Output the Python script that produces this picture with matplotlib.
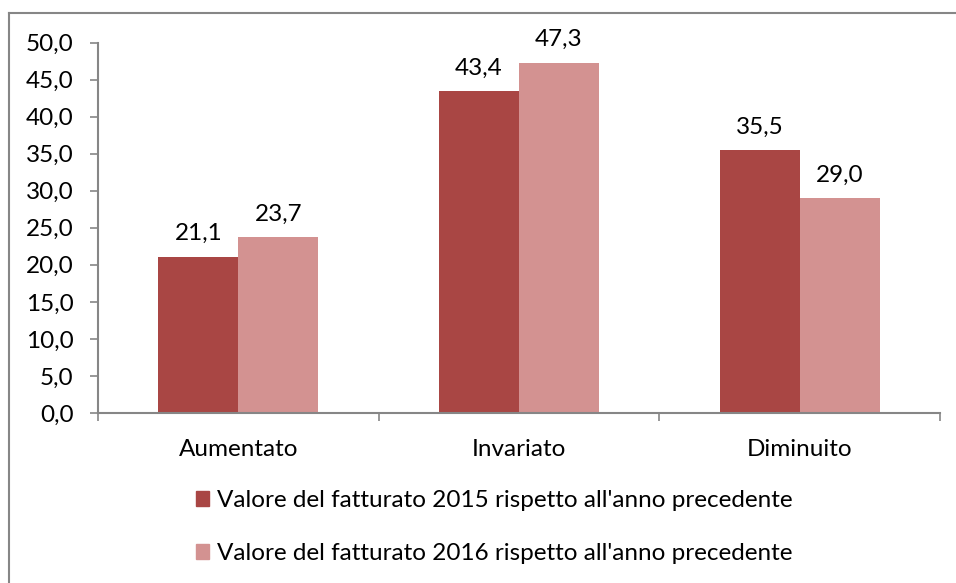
import matplotlib
matplotlib.use("Agg")
import matplotlib.pyplot as plt
import numpy as np
from matplotlib.lines import Line2D
from matplotlib.patches import Patch

categories = ["Aumentato", "Invariato", "Diminuito"]
series_names = ["Valore del fatturato 2015 rispetto all'anno precedente",
                "Valore del fatturato 2016 rispetto all'anno precedente"]
values_2015 = [21.1, 43.4, 35.5]
values_2016 = [23.7, 47.3, 29.0]
yticks = [0, 5, 10, 15, 20, 25, 30, 35, 40, 45, 50]

c1 = "#A94644"
c2 = "#D39291"
grey = "#868686"

plt.rcParams['font.family'] = ['Lato', 'DejaVu Sans']
fs = 17.5

fig = plt.figure(figsize=(9.56, 5.83), dpi=100)
W, H = 956, 583
ax = fig.add_axes([98 / W, 1 - 413 / H, (940 - 98) / W, (413 - 42.5) / H])

x = np.arange(len(categories))
w = 0.285
b1 = ax.bar(x - w / 2, values_2015, w, color=c1, label=series_names[0])
b2 = ax.bar(x + w / 2, values_2016, w, color=c2, label=series_names[1])

def fmt(v):
    return f"{v:.1f}".replace(".", ",")

for bars, vals in ((b1, values_2015), (b2, values_2016)):
    for r, v in zip(bars, vals):
        ax.annotate(fmt(v), (r.get_x() + r.get_width() / 2, v), xytext=(0, 9),
                    textcoords="offset points", ha="center", va="bottom", fontsize=fs)

ax.set_xlim(-0.5, 2.5)
ax.set_ylim(0, 50)
ax.set_yticks(yticks)
ax.set_yticklabels([fmt(v) for v in yticks], fontsize=fs)
ax.set_xticks(x)
ax.set_xticklabels(categories, fontsize=fs)
ax.set_xticks([-0.5, 0.5, 1.5, 2.5], minor=True)
ax.tick_params(axis='x', which='major', length=0, pad=19)
ax.tick_params(axis='x', which='minor', length=5.5, color=grey, width=1.2)
ax.tick_params(axis='y', length=5.5, color=grey, width=1.2, pad=12)
for s in ("top", "right"):
    ax.spines[s].set_visible(False)
for s in ("left", "bottom"):
    ax.spines[s].set_color(grey)
    ax.spines[s].set_linewidth(1.5)

handles = [Patch(color=c1), Patch(color=c2)]
fig.legend(handles, series_names, loc="center", bbox_to_anchor=(494 / W, 1 - 527 / H),
           frameon=False, fontsize=fs, ncol=1, handlelength=0.55, handleheight=0.55,
           handletextpad=0.3, labelspacing=1.3)

# chart-area border (only top and left edges visible in the crop)
fig.add_artist(Line2D([8.5 / W, 8.5 / W], [0, 1 - 12.5 / H], transform=fig.transFigure,
                      color=grey, linewidth=1.5))
fig.add_artist(Line2D([8.5 / W, 1], [1 - 12.5 / H, 1 - 12.5 / H], transform=fig.transFigure,
                      color=grey, linewidth=1.5))

fig.savefig("out.png", dpi=100)
